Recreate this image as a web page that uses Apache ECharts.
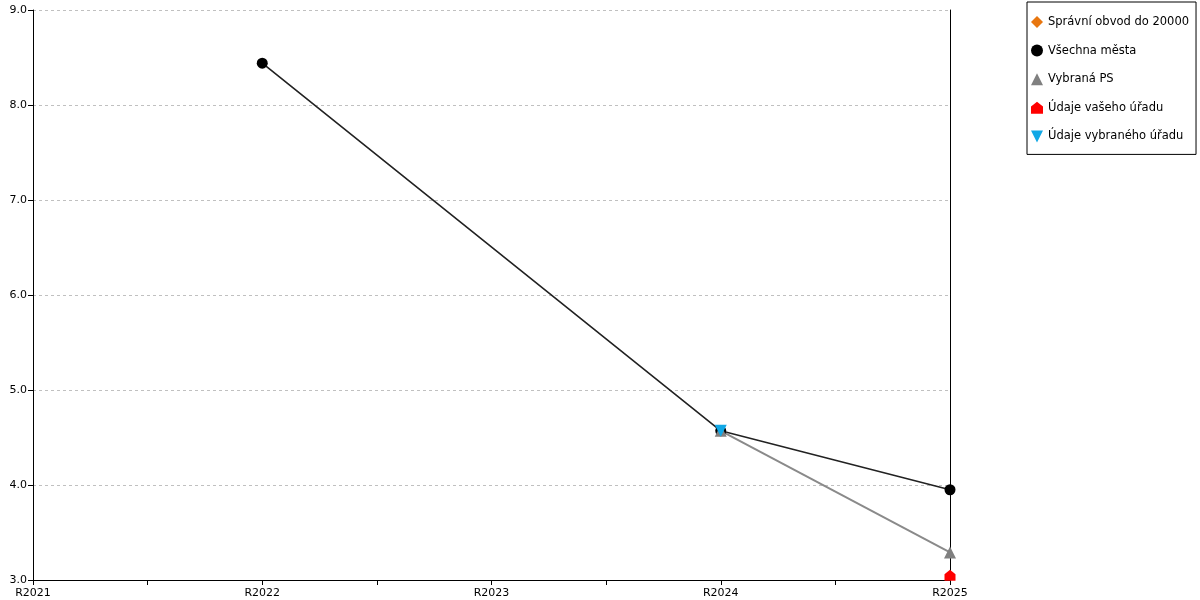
<!DOCTYPE html>
<html>
<head>
<meta charset="utf-8">
<script src="https://cdn.jsdelivr.net/npm/echarts@6/dist/echarts.min.js"></script>
<style>html,body{margin:0;padding:0;background:#fff}#c{width:1200px;height:600px}</style>
</head>
<body>
<div id="c"></div>
<script>
var categories = ['R2021', 'R2022', 'R2023', 'R2024', 'R2025'];
var yTicks = [3, 4, 5, 6, 7, 8, 9];
var seriesNames = ['Správní obvod do 20000', 'Všechna města', 'Vybraná PS', 'Údaje vašeho úřadu', 'Údaje vybraného úřadu'];
var spravniObvod = [null, null, null, null, null];
var vsechnaMesta = [null, 8.44, null, 4.57, 3.95];
var vybranaPS = [null, null, null, 4.57, 3.29];
var udajeVasehoUradu = [null, null, null, null, 3.05];
var udajeVybranehoUradu = [null, null, null, 4.57, null];

function toPairs(arr) {
  var out = [];
  arr.forEach(function (v, i) { if (v !== null) out.push([i, v]); });
  return out;
}

var HOUSE = 'path://M5,0 L10,4 L10,10 L0,10 L0,4 Z';
var DOWN = 'path://M0,0 L10,0 L5,10 Z';
var icons = ['diamond', 'circle', 'triangle', HOUSE, DOWN];

var FONT = 'DejaVu Sans';
var chart = echarts.init(document.getElementById('c'));
chart.setOption({
  animation: false,
  textStyle: { fontFamily: FONT },
  grid: { left: 33, right: 250, top: 10, bottom: 20, containLabel: false },
  legend: {
    orient: 'vertical', left: 1027, top: 2,
    padding: [14, 7, 12, 4],
    borderColor: '#000', borderWidth: 1,
    itemWidth: 12, itemHeight: 12, itemGap: 16.6,
    textStyle: { fontFamily: FONT, fontSize: 11.5, color: '#000' },
    data: seriesNames.map(function (n, i) { return { name: n, icon: icons[i] }; })
  },
  xAxis: {
    type: 'value', min: 0, max: categories.length - 1, interval: 0.5,
    axisLine: { lineStyle: { color: '#000', width: 1 } },
    axisTick: { show: true, length: 5, lineStyle: { color: '#000' } },
    splitLine: { show: false },
    axisLabel: {
      color: '#000', fontSize: 11, fontFamily: FONT, margin: 8,
      formatter: function (v) { return Number.isInteger(v) ? categories[v] : ''; }
    }
  },
  yAxis: [{
    type: 'value', min: yTicks[0], max: yTicks[yTicks.length - 1], interval: 1,
    axisLine: { show: true, lineStyle: { color: '#000' } },
    axisTick: { show: true, length: 5, lineStyle: { color: '#000' } },
    axisLabel: { color: '#000', fontSize: 11, fontFamily: FONT, margin: 6,
      formatter: function (v) { return v.toFixed(1); } },
    splitLine: { show: true, lineStyle: { color: '#c0c0c0', type: [3, 3], width: 1 } }
  }, {
    type: 'value', position: 'right', min: yTicks[0], max: yTicks[yTicks.length - 1], interval: 1,
    axisLine: { show: true, lineStyle: { color: '#000' } },
    axisTick: { show: false }, axisLabel: { show: false }, splitLine: { show: false }
  }],
  series: [
    { name: seriesNames[0], type: 'line', data: toPairs(spravniObvod),
      symbol: icons[0], symbolSize: 12, itemStyle: { color: '#e8760f' }, lineStyle: { color: '#e8760f', width: 1.5 } },
    { name: seriesNames[1], type: 'line', data: toPairs(vsechnaMesta), connectNulls: true,
      symbol: icons[1], symbolSize: 11, itemStyle: { color: '#000' }, lineStyle: { color: '#222', width: 1.6 } },
    { name: seriesNames[2], type: 'line', data: toPairs(vybranaPS),
      symbol: icons[2], symbolSize: 12, itemStyle: { color: '#808080' }, lineStyle: { color: '#8a8a8a', width: 2 } },
    { name: seriesNames[3], type: 'line', data: toPairs(udajeVasehoUradu),
      symbol: icons[3], symbolSize: 11, itemStyle: { color: '#ff0000' }, lineStyle: { color: '#ff0000' } },
    { name: seriesNames[4], type: 'line', data: toPairs(udajeVybranehoUradu),
      symbol: icons[4], symbolSize: 12, itemStyle: { color: '#11a8e6' }, lineStyle: { color: '#11a8e6' } }
  ]
});
</script>
</body>
</html>
